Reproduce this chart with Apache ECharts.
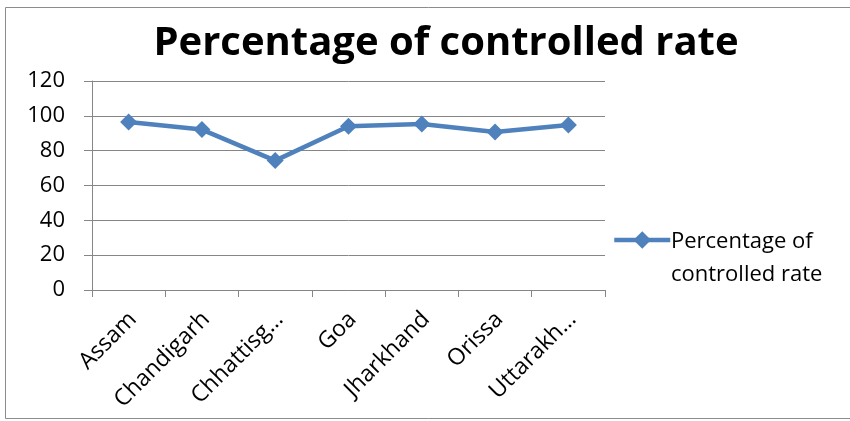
<!DOCTYPE html>
<html>
<head>
<meta charset="utf-8">
<script src="https://cdn.jsdelivr.net/npm/echarts@6/dist/echarts.min.js"></script>
<style>
  html, body { margin: 0; padding: 0; background: #fff; }
  #chart { width: 850px; height: 421px; }
</style>
</head>
<body>
<div id="chart"></div>
<script>
// States shown on the category axis
const states = ['Assam', 'Chandigarh', 'Chhattisg…', 'Goa', 'Jharkhand', 'Orissa', 'Uttarakh…'];
// Percentage of controlled rate per state
const controlledRate = [96.5, 92.1, 74.3, 94.0, 95.3, 90.7, 94.8];
const seriesName = 'Percentage of controlled rate';
const yTicks = [0, 20, 40, 60, 80, 100, 120];

const font = '"Open Sans", "Noto Sans", sans-serif';
const chart = echarts.init(document.getElementById('chart'));
chart.setOption({
  animation: false,
  backgroundColor: '#fff',
  title: {
    text: 'Percentage of controlled rate',
    left: 441,
    textAlign: 'center',
    top: 19,
    textStyle: { fontFamily: font, fontWeight: 'bold', fontSize: 40, color: '#000' }
  },
  graphic: [{
    type: 'rect',
    shape: { x: 5.5, y: 7.5, width: 860, height: 411 },
    style: { fill: 'none', stroke: '#8c8c8c', lineWidth: 1 },
    silent: true
  }, {
    type: 'text',
    left: 671,
    top: 225,
    style: {
      text: 'Percentage of\ncontrolled rate',
      font: '22px ' + font,
      lineHeight: 33,
      fill: '#000'
    }
  }],
  legend: {
    show: true,
    left: 612,
    top: 229,
    padding: 0,
    itemWidth: 56,
    itemHeight: 22,
    lineStyle: { width: 4.5 },
    formatter: () => '',
    data: [seriesName]
  },
  grid: { left: 92, right: 245, top: 81, bottom: 131, containLabel: false },
  xAxis: {
    type: 'category',
    data: states,
    boundaryGap: true,
    axisLine: { lineStyle: { color: '#868686', width: 1 } },
    axisTick: { show: true, length: 7, lineStyle: { color: '#868686' } },
    axisLabel: {
      rotate: 45,
      fontFamily: font,
      fontSize: 23,
      color: '#000',
      margin: 30,
      padding: [0, -6, 0, 0]
    }
  },
  yAxis: {
    type: 'value',
    min: yTicks[0],
    max: yTicks[yTicks.length - 1],
    interval: 20,
    axisLine: { show: true, lineStyle: { color: '#868686', width: 1 } },
    axisTick: { show: true, length: 8, lineStyle: { color: '#868686' } },
    splitLine: { lineStyle: { color: '#868686', width: 1 } },
    axisLabel: { fontFamily: font, fontSize: 22, color: '#000', margin: 27 }
  },
  series: [{
    name: seriesName,
    type: 'line',
    data: controlledRate,
    symbol: 'diamond',
    symbolSize: 17,
    itemStyle: { color: '#4F81BD' },
    lineStyle: { color: '#4F81BD', width: 4.5 }
  }]
});
</script>
</body>
</html>
